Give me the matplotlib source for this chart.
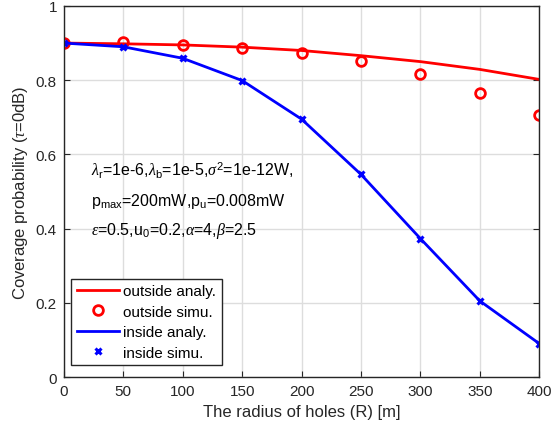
import matplotlib
matplotlib.use("Agg")
import matplotlib.pyplot as plt

plt.rcParams['font.family'] = ['Liberation Sans', 'DejaVu Sans']
plt.rcParams['mathtext.fontset'] = 'custom'
plt.rcParams['mathtext.rm'] = 'Liberation Sans'
plt.rcParams['mathtext.it'] = 'Liberation Serif:italic'
plt.rcParams['mathtext.bf'] = 'Liberation Sans:bold'

R = [0, 50, 100, 150, 200, 250, 300, 350, 400]
outside_analy = [0.900, 0.898, 0.895, 0.889, 0.880, 0.866, 0.850, 0.829, 0.802]
outside_simu = [0.900, 0.902, 0.895, 0.888, 0.874, 0.851, 0.816, 0.765, 0.706]
inside_analy = [0.900, 0.890, 0.859, 0.799, 0.695, 0.546, 0.373, 0.205, 0.090]
inside_simu = [0.900, 0.890, 0.859, 0.799, 0.695, 0.546, 0.373, 0.205, 0.090]
xticks = [0, 50, 100, 150, 200, 250, 300, 350, 400]
yticks = [0, 0.2, 0.4, 0.6, 0.8, 1]

fig = plt.figure(figsize=(5.6, 4.35), dpi=100)
ax = fig.add_axes([0.114, 0.131, 0.849, 0.853])

ax.plot(R, outside_analy, color='red', lw=2, label='outside analy.')
ax.plot(R, outside_simu, 'o', color='red', mfc='none', mew=2, ms=7, label='outside simu.')
ax.plot(R, inside_analy, color='blue', lw=2, label='inside analy.')
ax.plot(R, inside_simu, 'x', color='blue', mew=2.2, ms=5, label='inside simu.')

ax.set_xlim(0, 400)
ax.set_ylim(0, 1)
ax.set_xticks(xticks)
ax.set_yticks(yticks)
ax.set_yticklabels(['0', '0.2', '0.4', '0.6', '0.8', '1'])
ax.grid(True, color='#dddddd', lw=1)
ax.set_axisbelow(True)
ax.tick_params(direction='in', length=4, labelsize=11, colors='#262626', top=False, right=True, pad=5)
for s in ax.spines.values():
    s.set_color('#262626')
    s.set_linewidth(1)

ax.set_xlabel('The radius of holes (R) [m]', fontsize=12, color='#262626')
ax.set_ylabel(r'Coverage probability ($\tau$=0dB)', fontsize=12, color='#262626')

txt = ('$\\lambda_{\\rm r}$=1e-6,$\\lambda_{\\rm b}$=1e-5,$\\sigma^{\\rm 2}$=1e-12W,\n'
       'p$_{\\rm max}$=200mW,p$_{\\rm u}$=0.008mW\n'
       '$\\epsilon$=0.5,u$_{\\rm 0}$=0.2,$\\alpha$=4,$\\beta$=2.5')
ax.text(23, 0.585, txt, fontsize=11.5, va='top', ha='left', linespacing=1.75)

leg = ax.legend(loc='lower left', fontsize=11, frameon=True, fancybox=False,
                edgecolor='#262626', framealpha=1, handlelength=2.75,
                borderaxespad=0.5, labelspacing=0.42, borderpad=0.35, handletextpad=0.3,
                bbox_to_anchor=(0.0, 0.012))
leg.get_frame().set_linewidth(1)

fig.savefig('out.png', dpi=100)
